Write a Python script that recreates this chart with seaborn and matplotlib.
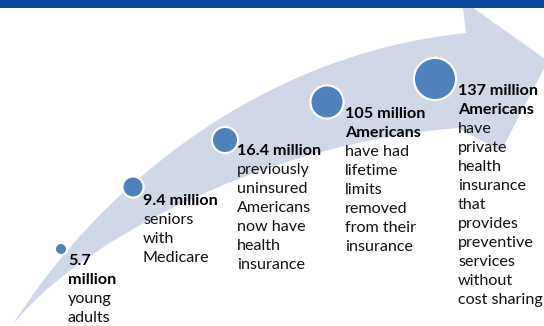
import matplotlib
matplotlib.use("Agg")
import matplotlib.pyplot as plt
from matplotlib.path import Path
from matplotlib.patches import PathPatch
import seaborn as sns
import pandas as pd

# ---- data ----
values = [5.7, 9.4, 16.4, 105, 137]
bold_text = [["5.7", "million"],
             ["9.4 million"],
             ["16.4 million"],
             ["105 million", "Americans"],
             ["137 million", "Americans"]]
desc_text = [["young", "adults"],
             ["seniors", "with", "Medicare"],
             ["previously", "uninsured", "Americans", "now have", "health", "insurance"],
             ["have had", "lifetime", "limits", "removed", "from their", "insurance"],
             ["have", "private", "health", "insurance", "that", "provides",
              "preventive", "services", "without", "cost sharing"]]

# ---- layout (pixel space of the 544x326 canvas) ----
circle_x = [61, 133, 225, 327, 435]
circle_y = [249, 187, 140, 102, 79]
circle_r = [5, 9.5, 12, 15.5, 20]
label_x = [68, 143, 237, 345, 458]
label_base = [265, 205, 155, 118, 95]
line_gap = 19.0

BAND = "#D0D8E8"
DOT = "#4F81BD"
BAR = "#0A4A9A"

sns.set_theme(style="white")
plt.rcParams["font.family"] = ["Lato", "DejaVu Sans"]

W, H, DPI = 544, 326, 100
fig = plt.figure(figsize=(W / DPI, H / DPI), dpi=DPI)
ax = fig.add_axes([0, 0, 1, 1])

# curved arrow shape
verts = [
    (12, 326),
    (90, 200), (250, 55), (466, 33),      # upper edge (cubic)
    (462, 0),                              # upper barb
    (548, 61),                             # tip
    (501, 151),                            # lower barb
    (458, 128),                            # lower notch
    (250, 145), (70, 250), (12, 326),      # lower edge back to tail (cubic)
]
codes = [Path.MOVETO,
         Path.CURVE4, Path.CURVE4, Path.CURVE4,
         Path.LINETO, Path.LINETO, Path.LINETO, Path.LINETO,
         Path.CURVE4, Path.CURVE4, Path.CURVE4]
ax.add_patch(PathPatch(Path(verts, codes), facecolor=BAND, edgecolor="none", zorder=1))

# top bar
ax.axhspan(0, 8, color=BAR, zorder=5, lw=0)

# circles (white ring drawn outside the blue fill)
px2pt = 72 / DPI
ring_px = 2.2
df = pd.DataFrame({"x": circle_x, "y": circle_y, "value": values})
sizes = {v: ((2 * r + ring_px) * px2pt) ** 2 for v, r in zip(values, circle_r)}
sns.scatterplot(data=df, x="x", y="y", size="value", sizes=sizes, legend=False,
                color=DOT, edgecolor="white", linewidth=ring_px * px2pt, ax=ax, zorder=3)
ax.set_xlim(0, W)
ax.set_ylim(H, 0)
ax.axis("off")

# labels
fs = 11.6
for i in range(len(values)):
    y = label_base[i]
    for line in bold_text[i]:
        ax.text(label_x[i], y, line, fontsize=fs, fontweight="bold",
                color="black", va="baseline", ha="left", zorder=4)
        y += line_gap
    for line in desc_text[i]:
        ax.text(label_x[i], y, line, fontsize=fs, color="#111111",
                va="baseline", ha="left", zorder=4)
        y += line_gap

fig.savefig("out.png", dpi=DPI)
